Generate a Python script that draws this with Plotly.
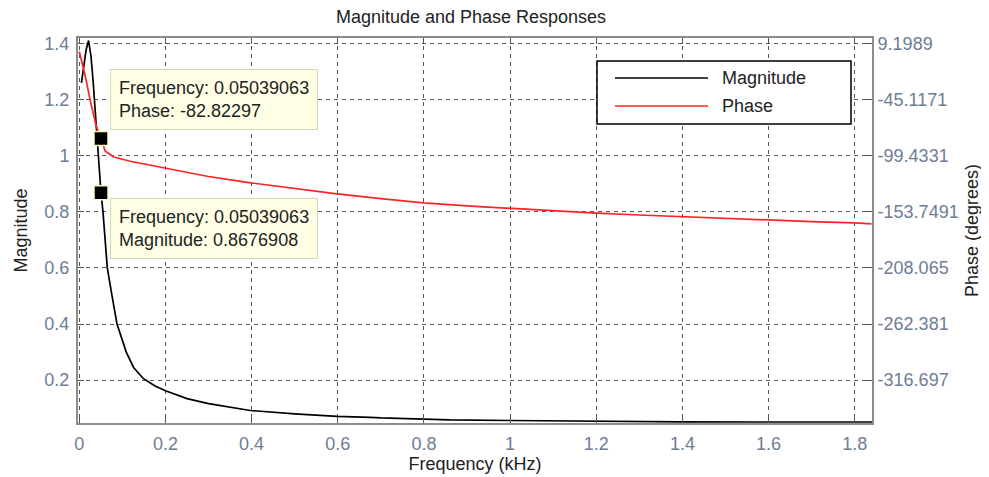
import plotly.graph_objects as go

# ---------------- data ----------------
freq_mag = [0.005, 0.010, 0.016, 0.0216, 0.0271, 0.0318, 0.037, 0.041, 0.044,
            0.0504, 0.055, 0.0603, 0.065, 0.076, 0.0875, 0.109, 0.126, 0.149,
            0.175, 0.2, 0.25, 0.3, 0.349, 0.397, 0.5, 0.598, 0.675, 0.7, 0.8,
            0.86, 1.0, 1.1, 1.2, 1.317, 1.4, 1.6, 1.84]
magnitude = [1.26, 1.32, 1.379, 1.411, 1.355, 1.272, 1.154, 1.094, 1.022,
             0.8677, 0.80, 0.70, 0.60, 0.50, 0.40, 0.30, 0.245, 0.205,
             0.18, 0.162, 0.134, 0.116, 0.103, 0.0916, 0.0798, 0.0705, 0.067, 0.065, 0.061,
             0.058, 0.056, 0.0545, 0.0535, 0.0515, 0.051, 0.0505, 0.0505]

freq_phase = [0.0, 0.014, 0.0255, 0.035, 0.0394, 0.0504, 0.0603, 0.065, 0.08,
              0.118, 0.196, 0.3, 0.397, 0.5, 0.598, 0.7, 0.799, 0.9, 1.0,
              1.1, 1.2, 1.3, 1.4, 1.5, 1.6, 1.7, 1.8, 1.839]
phase = [1.6, -22.3, -46.0, -61.2, -70.8, -82.82, -95.0, -96.3, -100.6,
         -104.7, -111.0, -119.5, -125.6, -131.3, -136.3, -141.0, -145.0, -148.0, -150.5,
         -153.0, -155.0, -156.8, -158.5, -160.2, -161.8, -163.2, -164.4, -165.3]

# data tip values
tip_freq = 0.05039063
tip_phase = -82.82297
tip_mag = 0.8676908

x_ticks = [0, 0.2, 0.4, 0.6, 0.8, 1.0, 1.2, 1.4, 1.6, 1.8]
mag_ticks = [0.2, 0.4, 0.6, 0.8, 1.0, 1.2, 1.4]
phase_ticks = [9.1989, -45.1171, -99.4331, -153.7491, -208.065, -262.381, -316.697]
phase_tick_text = ["9.1989", "-45.1171", "-99.4331", "-153.7491", "-208.065", "-262.381", "-316.697"]

# ---------------- figure ----------------
FONT = "Arial, Liberation Sans, sans-serif"
TICKCOL = "#6d7d95"
GRIDCOL = "#555555"
FRAME = "#8c8c8c"
TXT = "#222222"
FS = 18

W, H = 981, 469          # page body adds an 8px margin
ML, MR, MT, MB = 70, 117, 30, 54

mag_range = [0.047, 1.42]
# the phase axis is aligned so that its ticks coincide with the magnitude ticks
scale = (phase_ticks[0] - phase_ticks[1]) / (mag_ticks[-1] - mag_ticks[-2])
def m2p(m):
    return phase_ticks[0] + (m - mag_ticks[-1]) * scale
phase_range = [m2p(mag_range[0]), m2p(mag_range[1])]

fig = go.Figure()
fig.add_trace(go.Scatter(x=freq_mag, y=magnitude, mode="lines", name="Magnitude",
                         line=dict(color="black", width=1.7), yaxis="y"))
fig.add_trace(go.Scatter(x=freq_phase, y=phase, mode="lines", name="Phase",
                         line=dict(color="#ff2424", width=1.7), yaxis="y2"))
fig.add_trace(go.Scatter(x=[tip_freq], y=[tip_mag], mode="markers", showlegend=False,
                         marker=dict(symbol="square", size=14, color="black",
                                     line=dict(color="#fbf7c8", width=1.5)), yaxis="y"))
fig.add_trace(go.Scatter(x=[tip_freq], y=[tip_phase], mode="markers", showlegend=False,
                         marker=dict(symbol="square", size=14, color="black",
                                     line=dict(color="#fbf7c8", width=1.5)), yaxis="y2"))

tipstyle = dict(showarrow=False, xref="x", align="left", xanchor="left",
                font=dict(family=FONT, size=FS, color=TXT),
                bgcolor="#ffffe6", bordercolor="#d4d4bc", borderwidth=1, borderpad=8)
annotations = [
    dict(x=tip_freq, y=tip_phase, yref="y2", yanchor="bottom", xshift=9, yshift=9,
         text=f"Frequency: {tip_freq:.8f}<br>Phase: {tip_phase}", **tipstyle),
    dict(x=tip_freq, y=tip_mag, yref="y", yanchor="top", xshift=9, yshift=-5,
         text=f"Frequency: {tip_freq:.8f}<br>Magnitude: {tip_mag}", **tipstyle),
]

# custom legend (box with long line samples, as in the reference)
def px2paper_x(X):
    return (X - 78) / 794
def px2paper_y(Y):
    return (423 - Y) / 385

shapes = [
    dict(type="rect", xref="paper", yref="paper",
         x0=px2paper_x(597), x1=px2paper_x(851), y0=px2paper_y(124), y1=px2paper_y(61),
         line=dict(color="black", width=1.5), fillcolor="white", layer="above"),
    dict(type="line", xref="paper", yref="paper",
         x0=px2paper_x(615), x1=px2paper_x(708), y0=px2paper_y(78), y1=px2paper_y(78),
         line=dict(color="black", width=1.7), layer="above"),
    dict(type="line", xref="paper", yref="paper",
         x0=px2paper_x(615), x1=px2paper_x(708), y0=px2paper_y(106), y1=px2paper_y(106),
         line=dict(color="#ff2424", width=1.7), layer="above"),
]
for name, Y in [("Magnitude", 78), ("Phase", 106)]:
    annotations.append(dict(text=name, xref="paper", yref="paper", x=px2paper_x(720),
                            y=px2paper_y(Y), xanchor="left", yanchor="middle", showarrow=False,
                            font=dict(family=FONT, size=FS, color=TXT)))

axis_common = dict(gridcolor=GRIDCOL, griddash="4px,4px", gridwidth=1.2,
                   showline=True, linecolor=FRAME, linewidth=2,
                   ticks="inside", ticklen=6, tickcolor="#555555", tickwidth=1.2,
                   zeroline=False, tickfont=dict(family=FONT, size=FS, color=TICKCOL))

fig.update_layout(
    width=W, height=H,
    margin=dict(l=ML, r=MR, t=MT, b=MB, autoexpand=False),
    paper_bgcolor="white", plot_bgcolor="white",
    showlegend=False,
    title=dict(text="Magnitude and Phase Responses", xref="container", x=463 / W,
               y=1 - 9 / H, yref="container", xanchor="center", yanchor="middle",
               font=dict(family=FONT, size=FS, color=TXT)),
    xaxis=dict(range=[-0.003, 1.84], tickvals=x_ticks, mirror="ticks", showgrid=True,
               ticklabelstandoff=3,
               title=dict(text="Frequency (kHz)", standoff=4,
                          font=dict(family=FONT, size=FS, color=TXT)),
               **axis_common),
    yaxis=dict(range=mag_range, tickvals=mag_ticks, mirror=True, showgrid=True,
               ticklabelstandoff=3,
               title=dict(text="Magnitude", standoff=12,
                          font=dict(family=FONT, size=FS, color=TXT)),
               **axis_common),
    yaxis2=dict(range=phase_range, overlaying="y", side="right", showgrid=False,
                tickvals=phase_ticks, ticktext=phase_tick_text,
                title=dict(text="Phase (degrees)", standoff=8,
                           font=dict(family=FONT, size=FS, color=TXT)),
                **axis_common),
    annotations=annotations,
    shapes=shapes,
)

fig.write_html("out.html")
